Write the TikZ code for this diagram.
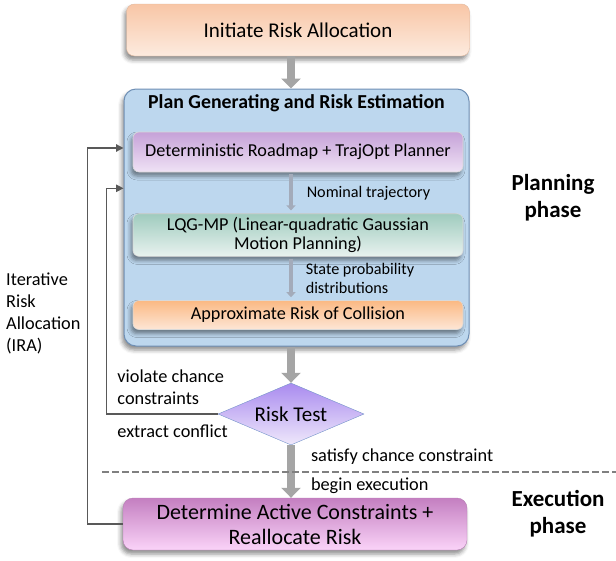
\documentclass[tikz,border=0pt]{standalone}
\usepackage{fontspec}
\setmainfont{Carlito}
\usepackage{tikz}
\usetikzlibrary{shapes.geometric, arrows.meta, shadows.blur}

\definecolor{initTop}{HTML}{F8C6A6}
\definecolor{initBot}{HTML}{FDEBDF}
\definecolor{planFill}{HTML}{BDD7EE}
\definecolor{planEdge}{HTML}{6F8FB5}
\definecolor{roadTop}{HTML}{C6A2D8}
\definecolor{roadBot}{HTML}{EFE2F5}
\definecolor{lqgTop}{HTML}{9FCBBE}
\definecolor{lqgBot}{HTML}{E8F2EF}
\definecolor{riskTop}{HTML}{FBB983}
\definecolor{riskBot}{HTML}{FDE6D6}
\definecolor{testTop}{HTML}{A98BEF}
\definecolor{testBot}{HTML}{EFE8FB}
\definecolor{testEdge}{HTML}{7393C9}
\definecolor{execTop}{HTML}{C47FC1}
\definecolor{execBot}{HTML}{FAD3F8}
\definecolor{arrowGray}{HTML}{A5A5A5}
\definecolor{thinGray}{HTML}{A3ABBA}
\definecolor{loopGray}{HTML}{595959}

\tikzstyle{boxshadow} = [blur shadow={shadow xshift=-2pt, shadow yshift=-4pt, shadow blur radius=4pt, shadow opacity=45}]
\tikzstyle{startstop} = [rectangle, rounded corners=8pt, minimum width=343pt, minimum height=52pt, text centered, draw=initTop!80!gray, top color=initTop, bottom color=initBot, boxshadow, font=\fontsize{21}{24}\selectfont]
\tikzstyle{container} = [rectangle, rounded corners=12pt, minimum width=345pt, minimum height=257pt, draw=planEdge, line width=1pt, fill=planFill, boxshadow]
\tikzstyle{process} = [rectangle, rounded corners=6pt, minimum width=330pt, minimum height=40pt, text centered, align=center, draw=white!70!gray, line width=0.6pt, boxshadow, font=\fontsize{18.2}{19.5}\selectfont]
\tikzstyle{decision} = [diamond, aspect=2.4, inner sep=0pt, minimum width=146pt, minimum height=62pt, text centered, draw=testEdge, top color=testTop, bottom color=testBot, font=\fontsize{21}{24}\selectfont]
\tikzstyle{execbox} = [rectangle, rounded corners=10pt, minimum width=344pt, minimum height=52pt, text centered, align=center, draw=execTop!80!gray, top color=execTop, bottom color=execBot, boxshadow, font=\fontsize{22}{25}\selectfont]
\tikzstyle{lbl} = [inner sep=0pt, align=left, font=\fontsize{16.2}{19}\selectfont]
\tikzstyle{biglbl} = [inner sep=0pt, align=left, font=\fontsize{18.3}{22}\selectfont]
\tikzstyle{phaselbl} = [align=center, font=\bfseries\fontsize{23}{27}\selectfont]
\tikzstyle{blockarrow} = [line width=8pt, draw=arrowGray, -{Triangle[width=19pt, length=10pt]}]
\tikzstyle{thinarrow} = [line width=3.5pt, draw=thinGray, -{Triangle[width=9pt, length=5pt]}, shorten <=2pt, shorten >=3pt]
\tikzstyle{loop} = [line width=1.3pt, draw=loopGray, -{Triangle[width=7.5pt, length=7.5pt]}]

\begin{document}
\begin{tikzpicture}[x=1pt, y=1pt, node distance=83pt]
  \useasboundingbox (0,0) rectangle (616,-560);

  \node (init) [startstop] at (298,-30) {Initiate Risk Allocation};
  \node (plan) [container] at (296.5,-217.5) {};
  \node (plantitle) [anchor=north, yshift=-3pt, font=\bfseries\fontsize{19.8}{21}\selectfont] at (plan.north) {Plan Generating and Risk Estimation};
  \node (roadmap) [process, top color=roadTop, bottom color=roadBot, below of=init, yshift=-39pt] {Deterministic Roadmap + TrajOpt Planner};
  \node (lqg) [process, top color=lqgTop, bottom color=lqgBot, below of=roadmap] {LQG-MP (Linear-quadratic Gaussian\\Motion Planning)};
  \node (collide) [process, minimum height=29pt, top color=riskTop, bottom color=riskBot, below of=lqg, yshift=3pt] {Approximate Risk of Collision};
  \node (risk) [decision, below of=collide, yshift=-16pt, xshift=-7pt] {Risk Test};
  \node (exec) [execbox, below of=risk, yshift=-27pt, xshift=4pt] {Determine Active Constraints +\\Reallocate Risk};

  \node (planlbl) [phaselbl] at (553,-198) {Planning\\phase};
  \node (execlbl) [phaselbl] at (558,-514) {Execution\\phase};
  \node (iralbl) [biglbl, anchor=west] at (6,-313) {Iterative\\Risk\\Allocation\\(IRA)};

  \coordinate[yshift=4pt] (toroadmap) at (plan.west |- roadmap);
  \coordinate[yshift=-16pt] (tolqg) at (plan.west |- roadmap.south);

  \draw [blockarrow] (init.south -| risk) -- (plan.north -| risk);
  \draw [thinarrow] (roadmap.south -| risk) -- node[lbl, anchor=west, xshift=14pt] {Nominal trajectory} (lqg.north -| risk);
  \draw [thinarrow] (lqg.south -| risk) -- node[lbl, anchor=west, xshift=13pt] {State probability\\distributions} (collide.north -| risk);
  \draw [blockarrow] (plan.south -| risk) -- (risk.north);
  \draw [blockarrow] (risk.south) -- node[biglbl, pos=0.21, anchor=west, xshift=16pt] {satisfy chance constraint} node[biglbl, pos=0.77, anchor=west, xshift=16pt] {begin execution} (exec.north -| risk);

  \draw [loop] (risk.west) -- node[biglbl, pos=0.91, anchor=south west, yshift=9pt] {violate chance\\constraints} node[biglbl, pos=0.91, anchor=north west, yshift=-10pt] {extract conflict} ++(-111,0) |- (tolqg);
  \draw [loop] (exec.west) -- ++(-35,0) |- (toroadmap);

  \draw [line width=2pt, draw=gray, dash pattern=on 7pt off 3pt] (102,-472) -- (616,-472);

\end{tikzpicture}
\end{document}
